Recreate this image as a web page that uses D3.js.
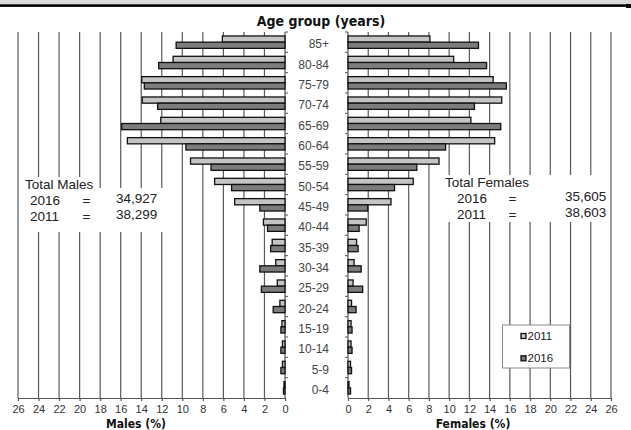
<!DOCTYPE html>
<html><head><meta charset="utf-8">
<script src="https://cdn.jsdelivr.net/npm/d3@7"></script>
<style>
body{margin:0;background:#fff;}
svg{display:block;}
</style></head>
<body>
<svg id="c" width="631" height="430"></svg>
<script>
const ages = ["85+","80-84","75-79","70-74","65-69","60-64","55-59","50-54","45-49","40-44","35-39","30-34","25-29","20-24","15-19","10-14","5-9","0-4"];
const males2011 = [6.1,10.9,13.95,13.9,12.1,15.35,9.2,6.85,4.9,2.1,1.25,0.9,0.75,0.5,0.3,0.25,0.25,0.1];
const males2016 = [10.6,12.3,13.7,12.4,15.9,9.65,7.2,5.2,2.45,1.7,1.4,2.45,2.3,1.15,0.4,0.4,0.4,0.15];
const females2011 = [8.1,10.45,14.35,15.2,12.15,14.5,9.0,6.45,4.25,1.8,0.85,0.6,0.5,0.35,0.3,0.3,0.25,0.1];
const females2016 = [12.9,13.7,15.65,12.5,15.1,9.65,6.8,4.6,1.95,1.1,1.0,1.3,1.45,0.8,0.4,0.4,0.35,0.25];
const tickValues = [0,2,4,6,8,10,12,14,16,18,20,22,24,26];
const years = ["2011","2016"];
const totalsMales = [["2016","34,927"],["2011","38,299"]];
const totalsFemales = [["2016","35,605"],["2011","38,603"]];

const svg = d3.select("#c");
const TOP = 32, BOT = 398;
const xL = d3.scaleLinear().domain([0,26]).range([285,18]);
const xR = d3.scaleLinear().domain([0,26]).range([348,611]);
const y = d3.scaleBand().domain(ages).range([TOP,BOT]);
const fill = {"2011":"#c4c4c4","2016":"#7c7c7c"};
const condBold = "'DejaVu Sans Condensed','Liberation Sans Narrow','DejaVu Sans',sans-serif";
const sans = "'Liberation Sans',Arial,sans-serif";

// header
svg.append("rect").attr("x",0).attr("y",0).attr("width",631).attr("height",4.5).attr("fill","#d9d9d9");
svg.append("rect").attr("x",0).attr("y",4.3).attr("width",627).attr("height",2.6).attr("fill","#000");
svg.append("rect").attr("x",626).attr("y",4).attr("width",5).attr("height",4).attr("fill","#000");

// title
svg.append("text").attr("x",321).attr("y",26).attr("text-anchor","middle")
  .attr("font-family",condBold).attr("font-weight","bold").attr("font-stretch","condensed")
  .attr("font-size",14).attr("fill","#111").text("Age group (years)");

// gridlines
const grid = svg.append("g").attr("stroke","#5a5a5a").attr("stroke-width",1.2);
tickValues.filter(v=>v>0).forEach(v=>{
  grid.append("line").attr("x1",xL(v)).attr("x2",xL(v)).attr("y1",TOP).attr("y2",BOT);
  grid.append("line").attr("x1",xR(v)).attr("x2",xR(v)).attr("y1",TOP).attr("y2",BOT);
});

// white annotation boxes
svg.append("rect").attr("x",21).attr("y",177).attr("width",78).attr("height",16).attr("fill","#fff");
svg.append("rect").attr("x",21).attr("y",188).attr("width",155).attr("height",44).attr("fill","#fff");
svg.append("rect").attr("x",437).attr("y",175).attr("width",171).attr("height",47).attr("fill","#fff");

// x axes
function styleAxis(g){
  g.select(".domain").attr("stroke","#555").attr("stroke-width",1.2);
  g.selectAll(".tick line").attr("stroke","#555").attr("stroke-width",1.2);
  g.selectAll(".tick text").attr("font-family",sans).attr("font-size",11).attr("fill","#333");
}
svg.append("g").attr("transform",`translate(0,${BOT})`)
  .call(d3.axisBottom(xL).tickValues(tickValues).tickSize(3).tickPadding(4.5).tickSizeOuter(0).tickFormat(d3.format("d")))
  .call(styleAxis);
svg.append("g").attr("transform",`translate(0,${BOT})`)
  .call(d3.axisBottom(xR).tickValues(tickValues).tickSize(3).tickPadding(4.5).tickSizeOuter(0).tickFormat(d3.format("d")))
  .call(styleAxis);

// vertical axes
svg.append("line").attr("x1",xL(0)).attr("x2",xL(0)).attr("y1",TOP).attr("y2",BOT).attr("stroke","#555").attr("stroke-width",1.2);
svg.append("line").attr("x1",xR(0)).attr("x2",xR(0)).attr("y1",TOP).attr("y2",BOT).attr("stroke","#555").attr("stroke-width",1.2);
ages.forEach(a=>{
  const yy = y(a);
  svg.append("line").attr("x1",xL(0)).attr("x2",xL(0)+3).attr("y1",yy).attr("y2",yy).attr("stroke","#555");
  svg.append("line").attr("x1",xR(0)-3).attr("x2",xR(0)).attr("y1",yy).attr("y2",yy).attr("stroke","#555");
});

// bars
const bh = 6.2;
function bars(data, scale, side, yr, off){
  svg.append("g").selectAll("rect").data(ages).join("rect")
    .attr("x",(d,i)=> side==="L" ? scale(data[i]) : scale(0))
    .attr("width",(d,i)=> Math.abs(scale(data[i])-scale(0)))
    .attr("y",d=> y(d)+y.bandwidth()/2 + off)
    .attr("height",bh)
    .attr("fill",fill[yr]).attr("stroke","#111").attr("stroke-width",1.3);
}
bars(males2011,xL,"L","2011",-bh);
bars(males2016,xL,"L","2016",0);
bars(females2011,xR,"R","2011",-bh);
bars(females2016,xR,"R","2016",0);

// age labels
svg.append("g").selectAll("text").data(ages).join("text")
  .attr("x",329).attr("y",d=>y(d)+y.bandwidth()/2+2)
  .attr("text-anchor","end").attr("dominant-baseline","central")
  .attr("font-family",sans).attr("font-size",12).attr("fill","#444").text(d=>d);

// axis titles
svg.append("text").attr("x",136).attr("y",427.5).attr("text-anchor","middle")
  .attr("font-family",condBold).attr("font-weight","bold").attr("font-stretch","condensed")
  .attr("font-size",12).attr("fill","#111").text("Males (%)");
svg.append("text").attr("x",473).attr("y",427.5).attr("text-anchor","middle")
  .attr("font-family",condBold).attr("font-weight","bold").attr("font-stretch","condensed")
  .attr("font-size",12).attr("fill","#111").text("Females (%)");

// annotations
function annot(x0, title, totals, xYear, xEq, xNum, yTitle){
  const g = svg.append("g").attr("font-family",sans).attr("font-size",13.5).attr("fill","#222");
  g.append("text").attr("x",x0).attr("y",yTitle).text(title);
  totals.forEach((t,i)=>{
    const by = yTitle + 16 + i*15.5;
    g.append("text").attr("x",xYear).attr("y",by).text(t[0]);
    g.append("text").attr("x",xEq).attr("y",by).attr("text-anchor","middle").text("=");
    g.append("text").attr("x",xNum).attr("y",by-2).text(t[1]);
  });
}
annot(25,"Total Males",totalsMales,30,86.5,116,189);
annot(445,"Total Females",totalsFemales,457,512.5,565,187);

// legend
svg.append("rect").attr("x",502.5).attr("y",325).attr("width",67).attr("height",43)
  .attr("fill","#fff").attr("stroke","#8a8a8a").attr("stroke-width",1);
years.forEach((yr,i)=>{
  const ly = 333.5 + i*22.3;
  svg.append("rect").attr("x",521).attr("y",ly).attr("width",5).attr("height",5)
    .attr("fill",fill[yr]).attr("stroke","#111").attr("stroke-width",1.3);
  svg.append("text").attr("x",527.5).attr("y",ly+6).attr("font-family",sans).attr("font-size",11.5)
    .attr("fill","#222").text(yr);
});
</script>
</body></html>
